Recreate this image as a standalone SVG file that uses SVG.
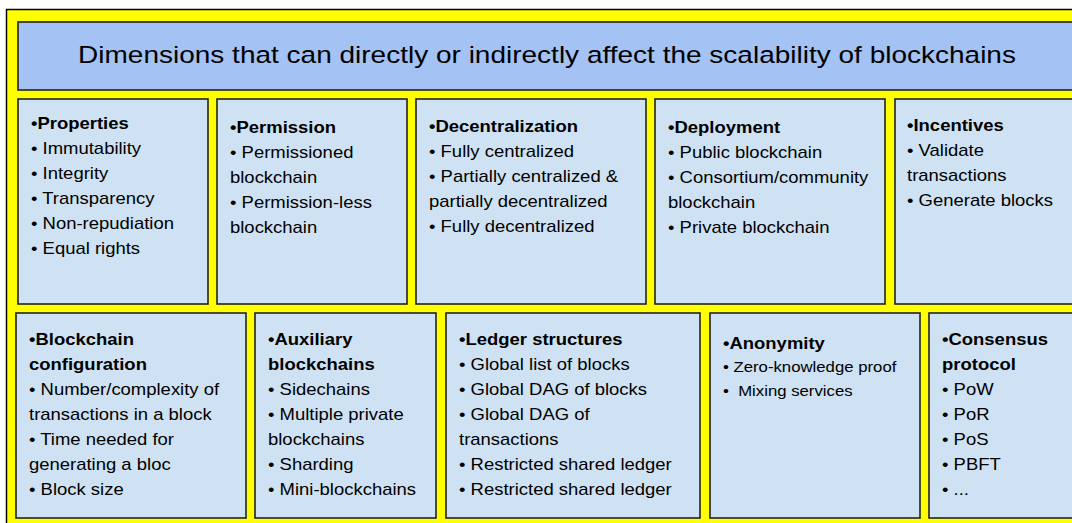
<svg xmlns="http://www.w3.org/2000/svg" width="1072" height="523" viewBox="0 0 1072 523">
<style>
.bg{fill:#ffff00;stroke:#000;stroke-width:1.5}
.title{fill:#a4c2f4;stroke:#222;stroke-width:1.6}
.box{fill:#cfe2f3;stroke:#222;stroke-width:1.6}
text{font-family:"Liberation Sans",Arial,sans-serif;fill:#000}
.h{font-size:16px;font-weight:bold}
.t{font-size:16px}
.s{font-size:14.5px}
.tt{font-size:24.25px}
</style>
<rect class="bg" x="6.5" y="9.5" width="1080" height="530"/>
<g id="title">
<rect class="title" x="18" y="22" width="1070" height="68"/>
<g transform="translate(547,0) scale(1.155,1)"><text class="tt" x="0" y="63" text-anchor="middle">Dimensions that can directly or indirectly affect the scalability of blockchains</text></g>
</g>
<g id="connectors"/>
<g id="properties">
<rect class="box" x="18" y="99" width="190" height="205"/>
<g transform="translate(31,0) scale(1.155,1)">
<text class="h" y="129">•Properties</text>
<text class="t" y="154">• Immutability</text>
<text class="t" y="179">• Integrity</text>
<text class="t" y="204">• Transparency</text>
<text class="t" y="229">• Non-repudiation</text>
<text class="t" y="254">• Equal rights</text>
</g>
</g>
<g id="permission">
<rect class="box" x="217" y="99" width="190" height="205"/>
<g transform="translate(230,0) scale(1.155,1)">
<text class="h" y="133">•Permission</text>
<text class="t" y="158">• Permissioned</text>
<text class="t" y="183">blockchain</text>
<text class="t" y="208">• Permission-less</text>
<text class="t" y="233">blockchain</text>
</g>
</g>
<g id="decentralization">
<rect class="box" x="416" y="99" width="230" height="205"/>
<g transform="translate(429,0) scale(1.155,1)">
<text class="h" y="132">•Decentralization</text>
<text class="t" y="157">• Fully centralized</text>
<text class="t" y="182">• Partially centralized &amp;</text>
<text class="t" y="207">partially decentralized</text>
<text class="t" y="232">• Fully decentralized</text>
</g>
</g>
<g id="deployment">
<rect class="box" x="655" y="99" width="230" height="205"/>
<g transform="translate(668,0) scale(1.155,1)">
<text class="h" y="133">•Deployment</text>
<text class="t" y="158">• Public blockchain</text>
<text class="t" y="183">• Consortium/community</text>
<text class="t" y="208">blockchain</text>
<text class="t" y="233">• Private blockchain</text>
</g>
</g>
<g id="incentives">
<rect class="box" x="895" y="99" width="200" height="205"/>
<g transform="translate(907,0) scale(1.155,1)">
<text class="h" y="131">•Incentives</text>
<text class="t" y="156">• Validate</text>
<text class="t" y="181">transactions</text>
<text class="t" y="206">• Generate blocks</text>
</g>
</g>
<g id="configuration">
<rect class="box" x="16" y="313" width="230" height="205"/>
<g transform="translate(29,0) scale(1.155,1)">
<text class="h" y="345">•Blockchain</text>
<text class="h" y="370">configuration</text>
<text class="t" y="395">• Number/complexity of</text>
<text class="t" y="420">transactions in a block</text>
<text class="t" y="445">• Time needed for</text>
<text class="t" y="470">generating a bloc</text>
<text class="t" y="495">• Block size</text>
</g>
</g>
<g id="auxiliary">
<rect class="box" x="255" y="313" width="181" height="205"/>
<g transform="translate(268,0) scale(1.155,1)">
<text class="h" y="345">•Auxiliary</text>
<text class="h" y="370">blockchains</text>
<text class="t" y="395">• Sidechains</text>
<text class="t" y="420">• Multiple private</text>
<text class="t" y="445">blockchains</text>
<text class="t" y="470">• Sharding</text>
<text class="t" y="495">• Mini-blockchains</text>
</g>
</g>
<g id="ledger">
<rect class="box" x="446" y="313" width="254" height="205"/>
<g transform="translate(459,0) scale(1.155,1)">
<text class="h" y="345">•Ledger structures</text>
<text class="t" y="370">• Global list of blocks</text>
<text class="t" y="395">• Global DAG of blocks</text>
<text class="t" y="420">• Global DAG of</text>
<text class="t" y="445">transactions</text>
<text class="t" y="470">• Restricted shared ledger</text>
<text class="t" y="495">• Restricted shared ledger</text>
</g>
</g>
<g id="anonymity">
<rect class="box" x="710" y="313" width="210" height="205"/>
<g transform="translate(723,0) scale(1.155,1)">
<text class="h" y="349">•Anonymity</text>
<text class="s" y="372">• Zero-knowledge proof</text>
<text class="s" y="396" xml:space="preserve">•  Mixing services</text>
</g>
</g>
<g id="consensus">
<rect class="box" x="929" y="313" width="170" height="205"/>
<g transform="translate(942,0) scale(1.155,1)">
<text class="h" y="345">•Consensus</text>
<text class="h" y="370">protocol</text>
<text class="t" y="395">• PoW</text>
<text class="t" y="420">• PoR</text>
<text class="t" y="445">• PoS</text>
<text class="t" y="470">• PBFT</text>
<text class="t" y="495">• ...</text>
</g>
</g>
</svg>
